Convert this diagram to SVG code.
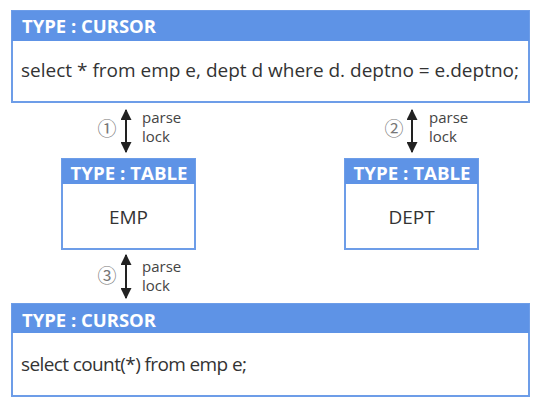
<svg xmlns="http://www.w3.org/2000/svg" width="540" height="408" viewBox="0 0 540 408">
<defs>
<marker id="ah" viewBox="0 0 10 10" refX="9" refY="5" markerWidth="5.5" markerHeight="5.5" orient="auto-start-reverse" markerUnits="strokeWidth">
<path d="M0,0 L10,5 L0,10 z" fill="#222"/>
</marker>
<style>
.box{fill:#ffffff;stroke:#6d9de8;stroke-width:2}
.hdr{fill:#5e93e6}
.ht{font-family:"Open Sans","Noto Sans",sans-serif;font-weight:bold;font-size:18px;fill:#ffffff}
.bt{font-family:"Open Sans","Noto Sans",sans-serif;font-size:19px;fill:#333333}
.lt{font-family:"Open Sans","Noto Sans",sans-serif;font-size:15px;fill:#444444}
.num{font-family:"Noto Sans CJK KR","Noto Sans",sans-serif;font-size:19px;fill:#777777}
.arr{stroke:#222;stroke-width:2;fill:none;marker-start:url(#ah);marker-end:url(#ah)}
</style>
</defs>
<rect width="540" height="408" fill="#ffffff"/>
<g id="cursor1">
<rect class="box" x="12" y="11" width="517" height="91"/>
<rect class="hdr" x="12" y="11" width="517" height="30"/>
<text class="ht" x="22" y="33" textLength="134" lengthAdjust="spacingAndGlyphs">TYPE : CURSOR</text>
<text class="bt" x="21" y="77" textLength="498">select * from emp e, dept d where d. deptno = e.deptno;</text>
</g>
<g id="emp">
<rect class="box" x="62" y="159" width="133" height="90"/>
<rect class="hdr" x="62" y="159" width="133" height="25"/>
<text class="ht" x="129" y="180" text-anchor="middle" textLength="117" lengthAdjust="spacingAndGlyphs">TYPE : TABLE</text>
<text class="bt" x="128.5" y="224" text-anchor="middle">EMP</text>
</g>
<g id="dept">
<rect class="box" x="345" y="159" width="133" height="90"/>
<rect class="hdr" x="345" y="159" width="133" height="25"/>
<text class="ht" x="412" y="180" text-anchor="middle" textLength="117" lengthAdjust="spacingAndGlyphs">TYPE : TABLE</text>
<text class="bt" x="411.5" y="224" text-anchor="middle">DEPT</text>
</g>
<g id="cursor2">
<rect class="box" x="12" y="304" width="517" height="92"/>
<rect class="hdr" x="12" y="304" width="517" height="29"/>
<text class="ht" x="22" y="327" textLength="134" lengthAdjust="spacingAndGlyphs">TYPE : CURSOR</text>
<text class="bt" x="21" y="371" textLength="226">select count(*) from emp e;</text>
</g>
<g id="connectors">
<line class="arr" x1="126" y1="110" x2="126" y2="152"/>
<text class="num" x="107" y="136" text-anchor="middle">①</text>
<text class="lt" x="142" y="123">parse</text>
<text class="lt" x="142" y="142">lock</text>
<line class="arr" x1="412" y1="110" x2="412" y2="152"/>
<text class="num" x="394" y="136" text-anchor="middle">②</text>
<text class="lt" x="429" y="123">parse</text>
<text class="lt" x="429" y="142">lock</text>
<line class="arr" x1="126" y1="255" x2="126" y2="298"/>
<text class="num" x="107" y="283" text-anchor="middle">③</text>
<text class="lt" x="142" y="272">parse</text>
<text class="lt" x="142" y="291">lock</text>
</g>
</svg>
